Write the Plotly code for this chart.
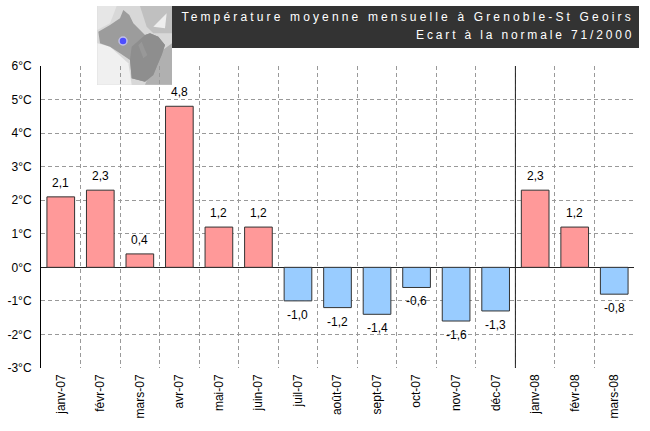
import plotly.graph_objects as go

months = ["janv-07", "févr-07", "mars-07", "avr-07", "mai-07", "juin-07", "juil-07", "août-07",
          "sept-07", "oct-07", "nov-07", "déc-07", "janv-08", "févr-08", "mars-08"]
anomalies = [2.1, 2.3, 0.4, 4.8, 1.2, 1.2, -1.0, -1.2, -1.4, -0.6, -1.6, -1.3, 2.3, 1.2, -0.8]
value_labels = ["2,1", "2,3", "0,4", "4,8", "1,2", "1,2", "-1,0", "-1,2", "-1,4", "-0,6", "-1,6", "-1,3", "2,3", "1,2", "-0,8"]
y_ticks = [6, 5, 4, 3, 2, 1, 0, -1, -2, -3]
y_labels = ["6°C", "5°C", "4°C", "3°C", "2°C", "1°C", "0°C", "-1°C", "-2°C", "-3°C"]
title_line1 = "Température moyenne mensuelle à Grenoble-St Geoirs"
title_line2 = "Ecart à la normale 71/2000"
year_break = 11.5

W, H = 650, 431
L, R, T, B = 41, 634, 66, 368
FONT = "Liberation Sans, Arial, sans-serif"

def px(x, y):
    return (x - L) / (R - L), (B - y) / (B - T)

def path(points):
    out = []
    for i, (x, y) in enumerate(points):
        a, b = px(x, y)
        out.append(("M" if i == 0 else "L") + f"{a:.4f},{b:.4f}")
    return " ".join(out) + " Z"

def zoompts(pts):
    return [(90 + x / 3, y / 3) for x, y in pts]

def poly(pts, fill):
    return dict(type="path", xref="paper", yref="paper", layer="below", path=path(zoompts(pts)),
                fillcolor=fill, line=dict(width=0))

def rect(x0, y0, x1, y1, fill):
    a0, b0 = px(x0, y0)
    a1, b1 = px(x1, y1)
    return dict(type="rect", xref="paper", yref="paper", layer="below", x0=a0, y0=b0, x1=a1, y1=b1,
                fillcolor=fill, line=dict(width=0))

shapes = [
    rect(172, 6, 639, 48, "#333333"),
    rect(97, 6, 172, 85, "#d8d8d8"),
    poly([(22, 18), (80, 18), (60, 70), (22, 90)], "#e6e6e6"),
    poly([(22, 130), (60, 140), (115, 190), (125, 254), (22, 254)], "#f0f0f0"),
    poly([(150, 18), (246, 18), (246, 100), (190, 100), (170, 80)], "#c0c0c0"),
    poly([(190, 80), (230, 40), (225, 85)], "#eeeeee"),
    poly([(205, 160), (246, 130), (246, 254), (165, 254)], "#b0b0b0"),
    poly([(100, 30), (118, 45), (130, 70), (165, 105), (180, 100), (205, 110), (225, 135), (215, 165),
          (200, 200), (190, 225), (165, 245), (125, 235), (120, 180), (90, 160), (60, 140), (30, 130),
          (25, 95), (60, 75), (90, 55)], "#9c9c9c"),
    poly([(125, 140), (165, 105), (180, 100), (205, 110), (225, 135), (215, 165), (200, 200), (190, 225),
          (165, 245), (125, 235), (120, 180)], "#8e8e8e"),
    poly([(145, 135), (155, 125), (165, 150), (172, 165), (160, 175)], "#989898"),
    dict(type="circle", xref="paper", yref="paper", layer="below",
         x0=px(119, 0)[0], x1=px(127, 0)[0], y0=px(0, 45)[1], y1=px(0, 37)[1],
         fillcolor="#4d4dff", line=dict(color="#c0c0e8", width=1.5)),
    dict(type="line", xref="x", yref="y", layer="above", x0=year_break, x1=year_break, y0=-3, y1=6,
         line=dict(color="#222222", width=1)),
]

colors = ["#FF9999" if v >= 0 else "#99CCFF" for v in anomalies]

fig = go.Figure(go.Bar(
    x=months, y=anomalies, cliponaxis=False,
    marker=dict(color=colors, line=dict(color="#333333", width=1)), hoverinfo="skip",
))

label_annotations = [
    dict(x=m, y=v, xref="x", yref="y", text=t, showarrow=False, yanchor="middle", yshift=14 if v >= 0 else -14,
         font=dict(family=FONT, size=12, color="#000000"))
    for m, v, t in zip(months, anomalies, value_labels)
]

fig.update_layout(
    width=W, height=H, autosize=False, margin=dict(l=L, r=W - R, t=T, b=H - B, autoexpand=False),
    paper_bgcolor="#ffffff", plot_bgcolor="rgba(0,0,0,0)", bargap=0.3, showlegend=False,
    font=dict(family=FONT, size=12, color="#000000"), shapes=shapes,
    annotations=label_annotations + [
        dict(xref="paper", yref="paper", x=px(636, 0)[0], y=px(0, 17)[1], xanchor="right", yanchor="middle",
             text=title_line1, showarrow=False, font=dict(family=FONT, size=12, color="#ffffff")),
        dict(xref="paper", yref="paper", x=px(636, 0)[0], y=px(0, 35)[1], xanchor="right", yanchor="middle",
             text=title_line2, showarrow=False, font=dict(family=FONT, size=12, color="#ffffff")),
    ],
)
fig.update_xaxes(type="category", range=[-0.5, 14.5], tickson="boundaries", ticks="", tickangle=-90,
                 showgrid=True, gridcolor="#999999", griddash="4px,3px", gridwidth=1, showline=False,
                 zeroline=False, tickfont=dict(family=FONT, size=12), ticklabelstandoff=3, automargin=False)
fig.update_yaxes(range=[-3, 6], tickmode="array", tickvals=y_ticks, ticktext=y_labels, ticks="",
                 showgrid=True, gridcolor="#999999", griddash="4px,3px", gridwidth=1,
                 zeroline=True, zerolinecolor="#222222", zerolinewidth=1,
                 showline=True, linecolor="#000000", linewidth=1, tickfont=dict(family=FONT, size=12),
                 ticklabelstandoff=6, automargin=False)

post = """
document.body.style.margin = '0';
var titles = [%r, %r];
var spacing = ['3.15px', '2.85px'];
document.querySelectorAll('.annotation-text').forEach(function (t) {
  var idx = titles.indexOf(t.textContent);
  if (idx < 0) return;
  var w = t.getBBox().width;
  t.setAttribute('x', Number(t.getAttribute('x')) + w / 2);
  t.setAttribute('text-anchor', 'end');
  t.style.textAnchor = 'end';
  t.style.letterSpacing = spacing[idx];
  var n = t;
  while (n && !n.classList.contains('annotation')) { n.removeAttribute('clip-path'); n.style.clipPath = 'none'; n = n.parentNode; }
  if (n) { n.removeAttribute('clip-path'); }
});
""" % (title_line1, title_line2)
fig.write_html("out.html", post_script=post, config={"displayModeBar": False})
